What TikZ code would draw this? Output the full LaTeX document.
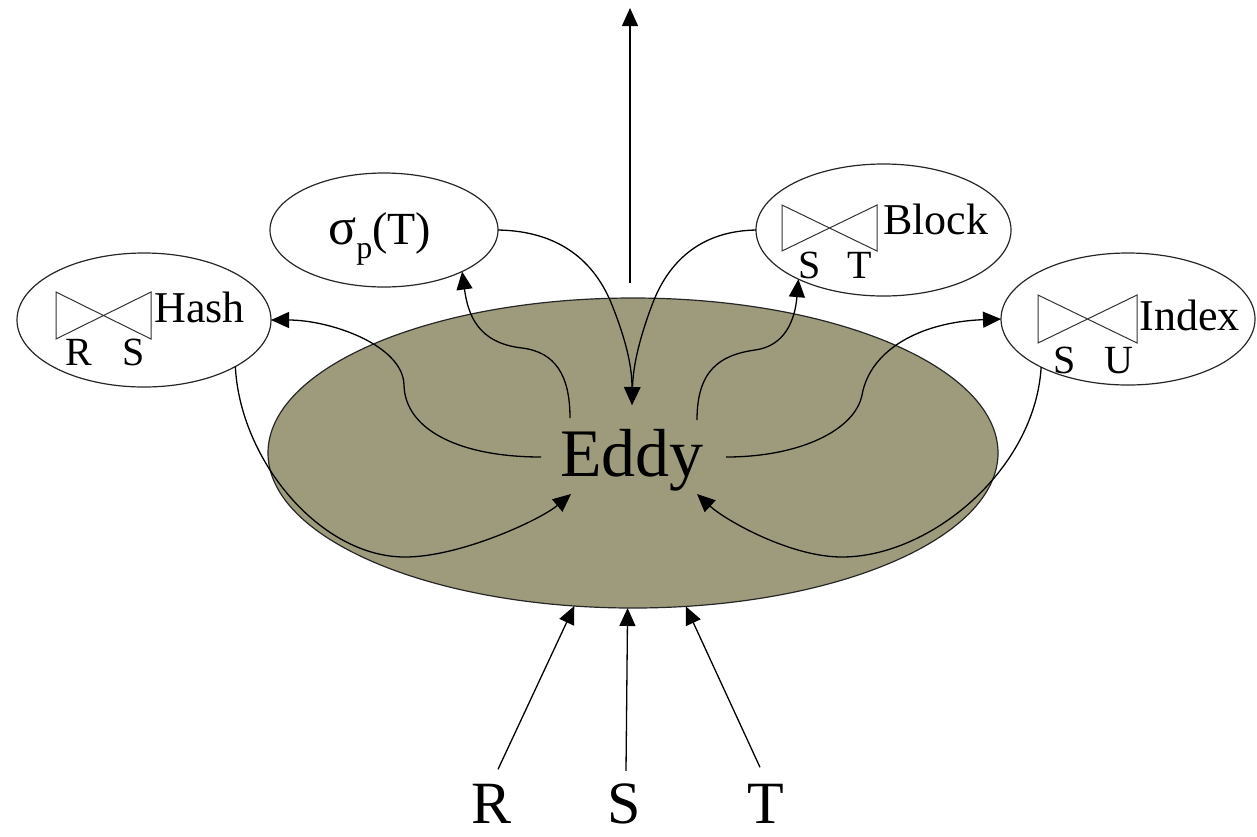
\documentclass[tikz,border=0pt]{standalone}
\usepackage{fontspec}
\setmainfont{Liberation Serif}
\usetikzlibrary{shapes.geometric,arrows.meta}
\definecolor{eddyfill}{RGB}{157,155,124}
\begin{document}
\begin{tikzpicture}[x=0.5pt,y=-0.5pt,
  oval/.style={draw=black!85, line width=0.6pt, ellipse, inner sep=0pt, outer sep=0pt},
  conn/.style={line width=0.65pt, -{Triangle[length=9pt,width=8pt]}},
  bow/.style={draw=black!80, line width=0.5pt},
  lbl/.style={inner sep=0pt, font=\fontsize{22}{22}\selectfont},
  sublbl/.style={inner sep=0pt, font=\fontsize{20}{20}\selectfont},
  big/.style={inner sep=0pt, font=\fontsize{30}{30}\selectfont}]
\useasboundingbox (0,0) rectangle (1257,836);

% main operator ellipse
\node[oval, fill=eddyfill, minimum width=365pt, minimum height=155pt] (eddy) at (633,453) {};
\node[inner sep=0pt, anchor=base, font=\fontsize{34}{34}\selectfont] (eddylbl) at (632,476) {Eddy};

% operator ellipses
\node[oval, minimum width=127pt, minimum height=67pt] (hash) at (144,320) {};
\node[oval, minimum width=114pt, minimum height=57pt] (sel) at (384,230) {};
\node[oval, minimum width=127.5pt, minimum height=66pt] (block) at (883.5,230) {};
\node[oval, minimum width=127pt, minimum height=66pt] (index) at (1128,319) {};

% bowtie join symbols
\draw[bow] (56,292) -- (56,339) -- (151,292) -- (151,339) -- cycle;
\draw[bow] (782,205) -- (782,251) -- (877,205) -- (877,251) -- cycle;
\draw[bow] (1038,295) -- (1038,343) -- (1137,295) -- (1137,343) -- cycle;

% labels
\node[lbl, anchor=base west] (hashlbl) at (154,322) {Hash};
\node[sublbl, anchor=base west] (hashR) at (65,365) {R};
\node[sublbl, anchor=base west] (hashS) at (122,365) {S};

\node[lbl, anchor=base west] (sellbl) at (328,244) {{\fontsize{26}{26}\selectfont σ}\raisebox{-7pt}{\fontsize{16}{16}\selectfont p}{\fontsize{23}{23}\selectfont (T)}};

\node[lbl, anchor=base west] (blocklbl) at (883,234) {Block};
\node[sublbl, anchor=base west] (blockS) at (798,278) {S};
\node[sublbl, anchor=base west] (blockT) at (847,278) {T};

\node[lbl, anchor=base west] (indexlbl) at (1139,330) {Index};
\node[sublbl, anchor=base west] (indexS) at (1053,373) {S};
\node[sublbl, anchor=base west] (indexU) at (1104,373) {U};

% input relations
\node[big, anchor=base] (R) at (492,823) {R};
\node[big, anchor=base] (S) at (624,823) {S};
\node[big, anchor=base] (T) at (766,823) {T};

% connector ends around the Eddy label
\coordinate (eL) at (541,457);
\coordinate (eR) at (726,457);
\coordinate (eUL) at (570,418);
\coordinate (eUR) at (697,420);
\coordinate (eTop) at (632,405);
\coordinate (eBL) at (571,494);
\coordinate (eBR) at (697,494);
\coordinate (outS) at (630,283);
\coordinate (outE) at (630,8);

% output
\draw[conn] (outS) -- (outE);

% Eddy -> operators
\draw[conn] (eL) .. controls (460,457) and (405,430) .. (404,385)
  .. controls (403,345) and (330,320) .. (hash.east);
\draw[conn] (eUL) .. controls (570,375) and (555,352) .. (522,348)
  .. controls (478,343) and (468,315) .. (sel.-28);
\draw[conn] (eUR) .. controls (697,370) and (720,355) .. (755,350)
  .. controls (785,346) and (795,320) .. (block.-150);
\draw[conn] (eR) .. controls (800,457) and (855,430) .. (862,395)
  .. controls (870,350) and (920,322) .. (index.west);

% operators -> Eddy
\draw[conn] (sel.east) .. controls (560,231) and (595,262) .. (612,305)
  .. controls (628,345) and (632,370) .. (eTop);
\draw[conn] (block.west) .. controls (700,231) and (668,262) .. (652,305)
  .. controls (637,345) and (633,370) .. (eTop);
\draw[conn] (hash.-27) .. controls (240,460) and (320,557) .. (405,557)
  .. controls (460,557) and (540,520) .. (eBL);
\draw[conn] (index.-151) .. controls (1035,470) and (930,557) .. (842,557)
  .. controls (790,557) and (725,520) .. (eBR);

% inputs -> Eddy
\draw[conn] ([shift={(6,-14)}]R.north) -- (eddy.-111);
\draw[conn] ([shift={(2,-12)}]S.north) -- (eddy.-92);
\draw[conn] ([shift={(-6,-16)}]T.north) -- (eddy.-71);
\end{tikzpicture}
\end{document}
